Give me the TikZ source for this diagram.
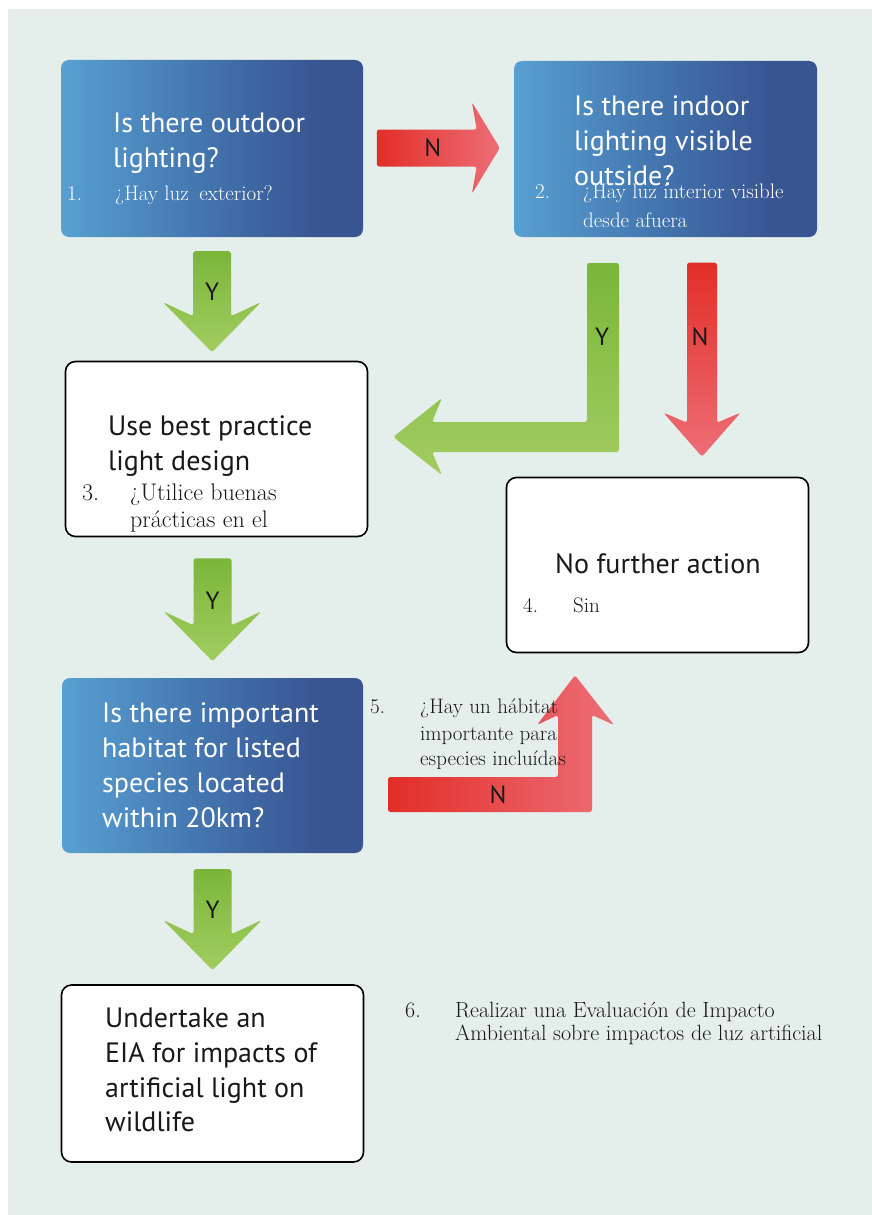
\documentclass[tikz,border=0pt]{standalone}
\usepackage{fontspec}
\newfontfamily\sansf{PT Sans}
\usetikzlibrary{calc}
\definecolor{bg}{RGB}{228,238,234}
\definecolor{bL}{RGB}{88,160,210}
\definecolor{bM}{RGB}{66,114,172}
\definecolor{bR}{RGB}{56,84,145}
\definecolor{gT}{RGB}{122,182,58}
\definecolor{gB}{RGB}{162,205,96}
\definecolor{rL}{RGB}{226,46,40}
\definecolor{rR}{RGB}{237,110,118}
\definecolor{ink}{RGB}{25,25,25}
\pgfdeclarehorizontalshading{blueshade}{100bp}{color(0bp)=(bL); color(25bp)=(bL); color(50bp)=(bM); color(68bp)=(bR); color(100bp)=(bR)}
\tikzset{
  bluebox/.style={rounded corners=8pt, shading=blueshade, draw=none, inner sep=0pt, minimum width=302pt, minimum height=177pt},
  whitebox/.style={rounded corners=10pt, fill=white, draw=black, line width=1.6pt, inner sep=0pt, minimum width=302pt, minimum height=175pt},
  entxt/.style={anchor=base west, inner sep=0pt, font=\sansf\fontsize{28}{35}\selectfont},
  estxt/.style={anchor=base west, inner sep=0pt, font=\rmfamily\fontsize{21}{25}\selectfont},
  estxtb/.style={estxt, font=\rmfamily\fontsize{24}{28}\selectfont},
  estxtc/.style={estxt, font=\rmfamily\fontsize{22}{26}\selectfont},
  ynlabel/.style={inner sep=0pt, text=ink, font=\sansf\fontsize{25}{30}\selectfont},
  greenarrow/.style={top color=gT, bottom color=gB, rounded corners=2.5pt},
  redharrow/.style={left color=rL, right color=rR, rounded corners=2.5pt},
  redvarrow/.style={top color=rL, bottom color=rR, rounded corners=2.5pt},
}
\newcommand{\downblock}[3]{%
  \shade[#3, shift={(#1)}] (0,0) -- (-49,-50) -- (-19,-36) -- (-19,-#2) -- (19,-#2) -- (19,-36) -- (49,-50) -- cycle;}
\begin{document}
\begin{tikzpicture}[x=1pt,y=-1pt]
\useasboundingbox (0,0) rectangle (872,1215);
\fill[white] (0,0) rectangle (872,1215);
\fill[bg] (8,9) rectangle (872,1215);

% boxes
\node[bluebox] (b1) at (212,148.5) {};
\node[bluebox, minimum width=303pt, minimum height=176pt] (b2) at (665.5,149) {};
\node[whitebox] (b3) at (216.5,449) {};
\node[whitebox] (b4) at (657.5,565) {};
\node[bluebox, minimum width=301pt, minimum height=175pt] (b5) at (212.5,765.5) {};
\node[whitebox, minimum height=177pt] (b6) at (212.5,1073.5) {};

% connectors
\coordinate (y1tip) at ($(b1.south)+(0,115)$);
\coordinate (y2tip) at ($(b3.south)+(-4,124)$);
\coordinate (y3tip) at ($(b5.south)+(0,117)$);
\downblock{y1tip}{101}{greenarrow}
\downblock{y2tip}{103}{greenarrow}
\downblock{y3tip}{101}{greenarrow}
\node[ynlabel] (ly1) at ($(y1tip)+(0,-60)$) {Y};
\node[ynlabel] (ly2) at ($(y2tip)+(0,-61)$) {Y};
\node[ynlabel] (ly3) at ($(y3tip)+(0,-60)$) {Y};

% N: b1 -> b2
\coordinate (n1tip) at ($(b2.west)+(-14,-1)$);
\shade[redharrow, shift={(n1tip)}] (0,0) -- (-28,-46) -- (-23,-18.5) -- (-123,-18.5) -- (-123,18.5) -- (-23,18.5) -- (-28,46) -- cycle;
\node[ynlabel] (ln1) at ($(n1tip)+(-67,0)$) {N};

% Y: b2 -> b3 (L-shaped)
\coordinate (ylTip) at ($(b3.east)+(25,-12)$);
\shade[greenarrow]
  (619,263) -- (619,452) -- (432,452) -- (442,475) -- (ylTip) -- (442,398) -- (432,422) -- (587,422) -- (587,263) -- cycle;
\node[ynlabel] (ly4) at (602,337) {Y};

% N: b2 -> b4
\coordinate (n2tip) at ($(b4.north)+(44.5,-20)$);
\shade[redvarrow, shift={(n2tip)}] (0,0) -- (-38.5,-44) -- (-15,-34) -- (-15,-194) -- (15,-194) -- (15,-34) -- (38.5,-44) -- cycle;
\node[ynlabel] (ln2) at ($(n2tip)+(-2,-120)$) {N};

% N: b5 -> b4 (L-shaped)
\coordinate (n3tip) at ($(b4.south)+(-82.5,22)$);
\shade[redharrow]
  (388,777) -- (558,777) -- (558,715) -- (537,725) -- (n3tip) -- (614,725) -- (592,715) -- (592,812) -- (388,812) -- cycle;
\node[ynlabel] (ln3) at (498,795) {N};

% texts box 1
\node[entxt, text=white] (t1a) at (113,132) {Is there outdoor};
\node[entxt, text=white] (t1b) at (113,167) {lighting?};
\node[estxt, text=white] (s1n) at (67,200) {1.};
\node[estxt, text=white] (s1a) at (115,200) {¿Hay luz\hspace{4pt} exterior?};

% texts box 2
\node[entxt, text=white] (t2a) at (574,115) {Is there indoor};
\node[entxt, text=white] (t2b) at (574,150) {lighting visible};
\node[entxt, text=white] (t2c) at (574,185) {outside?};
\node[estxt, text=white] (s2n) at (535,198) {2.};
\node[estxt, text=white] (s2a) at (583,198) {¿Hay luz interior visible};
\node[estxt, text=white] (s2b) at (583,227) {desde afuera};

% texts box 3
\node[entxt, text=ink] (t3a) at (108,435) {Use best practice};
\node[entxt, text=ink] (t3b) at (108,470) {light design};
\node[estxtb, text=ink] (s3n) at (82,500) {3.};
\node[estxtb, text=ink] (s3a) at (130,500) {¿Utilice buenas};
\node[estxtb, text=ink] (s3b) at (130,527) {prácticas en el};

% texts box 4
\node[entxt, text=ink] (t4a) at (555,573) {No further action};
\node[estxt, text=ink] (s4n) at (523,612) {4.};
\node[estxt, text=ink] (s4a) at (573,612) {Sin};

% texts box 5
\node[entxt, text=white] (t5a) at (102,722) {Is there important};
\node[entxt, text=white] (t5b) at (102,757) {habitat for listed};
\node[entxt, text=white] (t5c) at (102,792) {species located};
\node[entxt, text=white] (t5d) at (102,827) {within 20km?};
\node[estxt, text=ink] (s5n) at (370,713) {5.};
\node[estxt, text=ink] (s5a) at (420,713) {¿Hay un hábitat};
\node[estxt, text=ink] (s5b) at (420,740) {importante para};
\node[estxt, text=ink] (s5c) at (420,765) {especies incluídas};

% texts box 6
\node[entxt, text=ink] (t6a) at (105,1027) {Undertake an};
\node[entxt, text=ink] (t6b) at (105,1062) {EIA for impacts of};
\node[entxt, text=ink] (t6c) at (105,1097) {artificial light on};
\node[entxt, text=ink] (t6d) at (105,1131) {wildlife};
\node[estxtc, text=ink] (s6n) at (405,1017) {6.};
\node[estxtc, text=ink] (s6a) at (455,1017) {Realizar una Evaluación de Impacto};
\node[estxtc, text=ink] (s6b) at (455,1040) {Ambiental sobre impactos de luz artificial};
\end{tikzpicture}
\end{document}
